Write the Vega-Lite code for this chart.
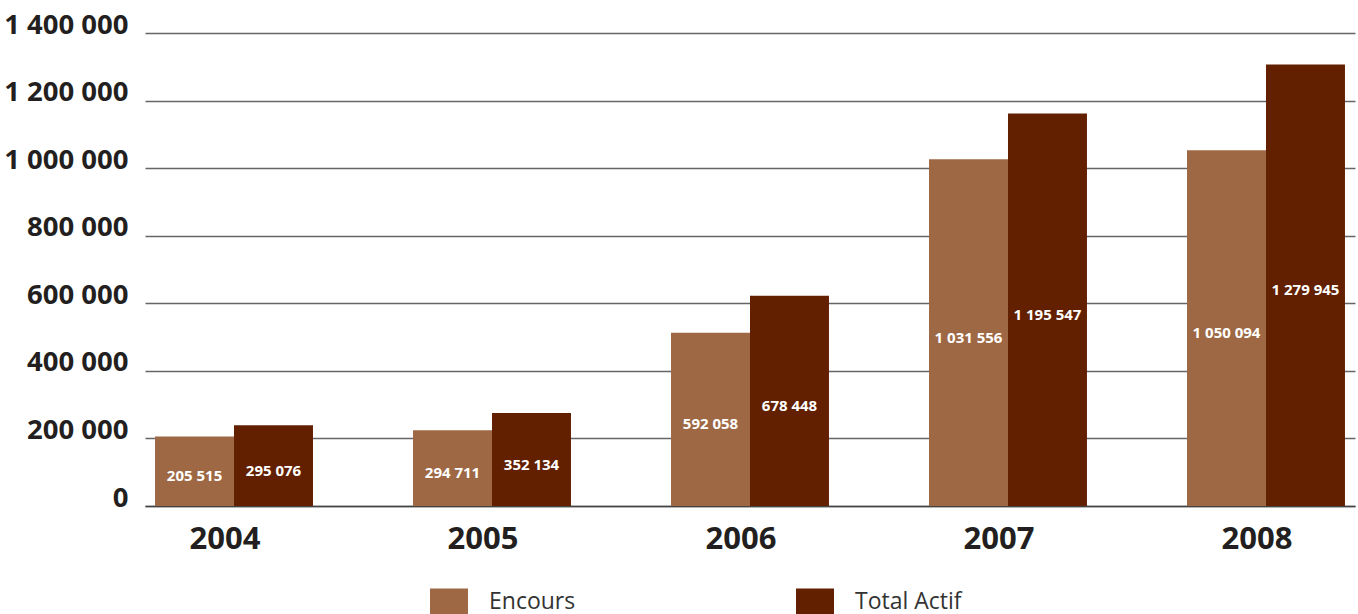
{
  "$schema": "https://vega.github.io/schema/vega-lite/v6.json",
  "width": 1210,
  "height": 473,
  "autosize": {"type": "none"},
  "padding": {"left": 145, "top": 33, "right": 3, "bottom": 108},
  "background": "white",
  "config": {
    "locale": {"number": {"decimal": ",", "thousands": " ", "grouping": [3], "currency": ["", " €"]}},
    "view": {"stroke": null},
    "font": "Open Sans"
  },
  "data": {
    "values": [
      {"annee": "2004", "serie": "Encours", "hauteur": 206000, "montant": 205515},
      {"annee": "2004", "serie": "Total Actif", "hauteur": 239000, "montant": 295076},
      {"annee": "2005", "serie": "Encours", "hauteur": 224000, "montant": 294711},
      {"annee": "2005", "serie": "Total Actif", "hauteur": 275000, "montant": 352134},
      {"annee": "2006", "serie": "Encours", "hauteur": 513000, "montant": 592058},
      {"annee": "2006", "serie": "Total Actif", "hauteur": 622000, "montant": 678448},
      {"annee": "2007", "serie": "Encours", "hauteur": 1026000, "montant": 1031556},
      {"annee": "2007", "serie": "Total Actif", "hauteur": 1162000, "montant": 1195547},
      {"annee": "2008", "serie": "Encours", "hauteur": 1053000, "montant": 1050094},
      {"annee": "2008", "serie": "Total Actif", "hauteur": 1307000, "montant": 1279945}
    ]
  },
  "encoding": {
    "x": {
      "field": "annee",
      "type": "nominal",
      "scale": {"paddingInner": 0.31, "paddingOuter": 0},
      "axis": {
        "title": null,
        "domain": true,
        "domainColor": "#444444",
        "domainWidth": 1.5,
        "ticks": false,
        "tickSize": 0,
        "labelAngle": 0,
        "labelFont": "Open Sans",
        "labelFontSize": 31,
        "labelFontWeight": "bold",
        "labelColor": "#231F20",
        "labelBaseline": "alphabetic",
        "labelPadding": 42,
        "labelOffset": -9
      }
    },
    "xOffset": {
      "field": "serie",
      "type": "nominal",
      "sort": ["Encours", "Total Actif"],
      "scale": {"paddingInner": 0, "paddingOuter": 0.127}
    }
  },
  "layer": [
    {
      "mark": {"type": "bar"},
      "encoding": {
        "y": {
          "field": "hauteur",
          "type": "quantitative",
          "scale": {"domain": [0, 1400000], "nice": false},
          "axis": {
            "title": null,
            "format": ",.0f",
            "values": [0, 200000, 400000, 600000, 800000, 1000000, 1200000, 1400000],
            "domain": false,
            "ticks": false,
            "tickSize": 0,
            "labelPadding": 17,
            "labelFont": "Open Sans",
            "labelFontSize": 27.5,
            "labelFontWeight": "bold",
            "labelColor": "#231F20",
            "labelBaseline": "alphabetic",
            "labelOverlap": false,
            "labelFlush": false,
            "gridColor": "#666666",
            "gridWidth": 1.5
          }
        },
        "color": {
          "field": "serie",
          "type": "nominal",
          "sort": ["Encours", "Total Actif"],
          "scale": {"domain": ["Encours", "Total Actif"], "range": ["#9E6844", "#622000"]},
          "legend": {
            "orient": "none",
            "legendX": 285,
            "legendY": 550,
            "direction": "horizontal",
            "title": null,
            "symbolType": "M-1,-0.737H1V0.737H-1Z",
            "symbolSize": 1444,
            "symbolStrokeWidth": 0,
            "labelFont": "Open Sans",
            "labelFontSize": 23,
            "labelColor": "#333333",
            "labelOffset": 21,
            "columnPadding": 220,
            "padding": 0
          }
        }
      }
    },
    {
      "mark": {"type": "text", "fill": "white", "font": "Open Sans", "fontWeight": "bold", "fontSize": 15, "baseline": "middle", "dy": 5},
      "encoding": {
        "y": {"field": "hauteur", "type": "quantitative", "scale": {"domain": [0, 2800000], "nice": false}, "axis": null},
        "text": {"field": "montant", "type": "quantitative", "format": ",.0f"}
      }
    }
  ],
  "resolve": {"scale": {"y": "independent"}}
}
